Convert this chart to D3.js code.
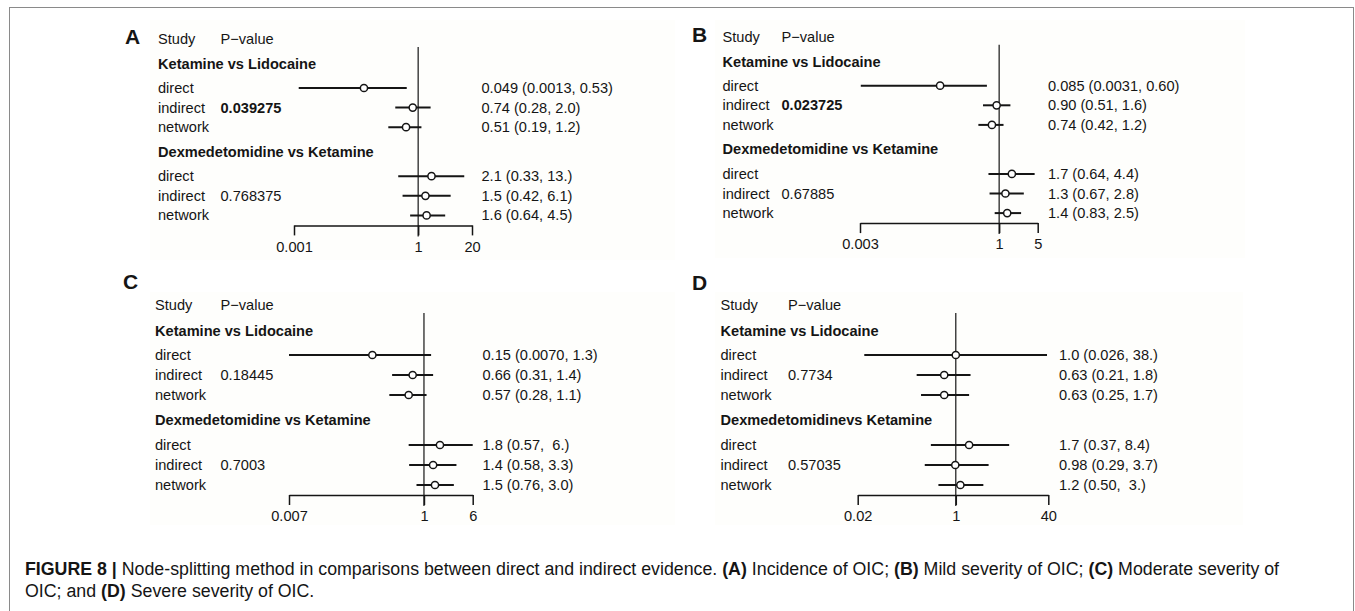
<!DOCTYPE html>
<html>
<head>
<meta charset="utf-8">
<script src="https://cdn.jsdelivr.net/npm/d3@7"></script>
<style>
  body { margin: 0; background: #fff; }
  svg { display: block; }
  text { font-family: "Liberation Sans", Arial, sans-serif; fill: #151515; }
</style>
</head>
<body>
<div class="d3Chart"></div>
<script>
//#region data

var methods = ["direct", "indirect", "network"];
var groupsABC = ["Ketamine vs Lidocaine", "Dexmedetomidine vs Ketamine"];
var groupsD = ["Ketamine vs Lidocaine", "Dexmedetomidinevs Ketamine"];

// A: incidence of OIC
var estA = [0.049, 0.74, 0.51, 2.1, 1.5, 1.6];
var lowA = [0.0013, 0.28, 0.19, 0.33, 0.42, 0.64];
var highA = [0.53, 2.0, 1.2, 13, 6.1, 4.5];
var textA = ["0.049 (0.0013, 0.53)", "0.74 (0.28, 2.0)", "0.51 (0.19, 1.2)",
  "2.1 (0.33, 13.)", "1.5 (0.42, 6.1)", "1.6 (0.64, 4.5)"];
var pA = ["0.039275", "0.768375"];
var ticksA = [0.001, 1, 20];
var tickLabelsA = ["0.001", "1", "20"];

// B: mild severity
var estB = [0.085, 0.90, 0.74, 1.7, 1.3, 1.4];
var lowB = [0.0031, 0.51, 0.42, 0.64, 0.67, 0.83];
var highB = [0.60, 1.6, 1.2, 4.4, 2.8, 2.5];
var textB = ["0.085 (0.0031, 0.60)", "0.90 (0.51, 1.6)", "0.74 (0.42, 1.2)",
  "1.7 (0.64, 4.4)", "1.3 (0.67, 2.8)", "1.4 (0.83, 2.5)"];
var pB = ["0.023725", "0.67885"];
var ticksB = [0.003, 1, 5];
var tickLabelsB = ["0.003", "1", "5"];

// C: moderate severity
var estC = [0.15, 0.66, 0.57, 1.8, 1.4, 1.5];
var lowC = [0.0070, 0.31, 0.28, 0.57, 0.58, 0.76];
var highC = [1.3, 1.4, 1.1, 6, 3.3, 3.0];
var textC = ["0.15 (0.0070, 1.3)", "0.66 (0.31, 1.4)", "0.57 (0.28, 1.1)",
  "1.8 (0.57,  6.)", "1.4 (0.58, 3.3)", "1.5 (0.76, 3.0)"];
var pC = ["0.18445", "0.7003"];
var ticksC = [0.007, 1, 6];
var tickLabelsC = ["0.007", "1", "6"];

// D: severe severity
var estD = [1.0, 0.63, 0.63, 1.7, 0.98, 1.2];
var lowD = [0.026, 0.21, 0.25, 0.37, 0.29, 0.50];
var highD = [38, 1.8, 1.7, 8.4, 3.7, 3];
var textD = ["1.0 (0.026, 38.)", "0.63 (0.21, 1.8)", "0.63 (0.25, 1.7)",
  "1.7 (0.37, 8.4)", "0.98 (0.29, 3.7)", "1.2 (0.50,  3.)"];
var pD = ["0.7734", "0.57035"];
var ticksD = [0.02, 1, 40];
var tickLabelsD = ["0.02", "1", "40"];

//#endregion

//#region canvas

var width = 1355;
var height = 611;
var fontSize = 14.6;

var svg = d3
  .select(".d3Chart")
  .append("svg")
  .attr("width", width)
  .attr("height", height);

// figure frame (bottom edge runs off the page)
svg
  .append("rect")
  .attr("x", 9.5)
  .attr("y", 7.5)
  .attr("width", 1344)
  .attr("height", 700)
  .attr("fill", "none")
  .attr("stroke", "#8a8a8a")
  .attr("stroke-width", 1);

//#endregion

//#region panels

var panels = [
  {
    letter: "A", letterX: 125, letterY: 44,
    bg: [150, 20, 525, 240],
    x0: 294, x1: 472, textX: 158, pX: 220.5, ciX: 481.5,
    studyY: 39, rowH: 19.6, boldP: true,
    groups: groupsABC, est: estA, low: lowA, high: highA, text: textA,
    p: pA, ticks: ticksA, tickLabels: tickLabelsA,
  },
  {
    letter: "B", letterX: 692, letterY: 42,
    bg: [715, 20, 530, 238],
    x0: 860, x1: 1037.7, textX: 722.5, pX: 781.5, ciX: 1048,
    studyY: 36.7, rowH: 19.6, boldP: true,
    groups: groupsABC, est: estB, low: lowB, high: highB, text: textB,
    p: pB, ticks: ticksB, tickLabels: tickLabelsB,
  },
  {
    letter: "C", letterX: 123, letterY: 289,
    bg: [150, 292, 525, 233],
    x0: 289, x1: 472.7, textX: 155, pX: 220.5, ciX: 482.5,
    studyY: 305, rowH: 20, boldP: false,
    groups: groupsABC, est: estC, low: lowC, high: highC, text: textC,
    p: pC, ticks: ticksC, tickLabels: tickLabelsC,
  },
  {
    letter: "D", letterX: 692, letterY: 290,
    bg: [715, 292, 528, 233],
    x0: 857.7, x1: 1048.3, textX: 720.5, pX: 788, ciX: 1059,
    studyY: 305, rowH: 20, boldP: false,
    groups: groupsD, est: estD, low: lowD, high: highD, text: textD,
    p: pD, ticks: ticksD, tickLabels: tickLabelsD,
  },
];

// vertical position of each line, in row units below the "Study" header
var rowUnits = [1.28, 2.5, 3.5, 4.5, 5.75, 7, 8, 9];

function drawPanel(p) {
  var g = svg.append("g");
  var y = (i) => p.studyY + rowUnits[i] * p.rowH;
  var x = d3.scaleLog().domain(d3.extent(p.ticks)).range([p.x0, p.x1]);

  // very faint tone of the pasted plot image
  g.append("rect")
    .attr("x", p.bg[0]).attr("y", p.bg[1])
    .attr("width", p.bg[2]).attr("height", p.bg[3])
    .attr("fill", "#fefefc");

  g.append("text")
    .attr("x", p.letterX).attr("y", p.letterY)
    .attr("font-size", 21).attr("font-weight", "bold")
    .text(p.letter);

  g.append("text").attr("x", p.textX).attr("y", p.studyY + 5)
    .attr("font-size", fontSize).text("Study");
  g.append("text").attr("x", p.pX).attr("y", p.studyY + 5)
    .attr("font-size", fontSize).text("P\u2212value");

  var axisY = y(7) + 10;

  // line of no effect
  g.append("line")
    .attr("x1", x(1)).attr("x2", x(1))
    .attr("y1", p.studyY + 8).attr("y2", axisY + 11)
    .attr("stroke", "#151515").attr("stroke-width", 1.2);

  var rows = [];
  p.groups.forEach((grp, gi) => {
    methods.forEach((m, mi) => {
      var k = gi * 3 + mi;
      rows.push({
        method: m, yy: y(gi * 4 + 1 + mi),
        est: p.est[k], low: p.low[k], high: p.high[k], text: p.text[k],
      });
    });
  });

  // group headers
  g.selectAll(".grp")
    .data(p.groups)
    .enter()
    .append("text")
    .attr("x", p.textX)
    .attr("y", (d, i) => y(i * 4) + 5)
    .attr("font-size", fontSize)
    .attr("font-weight", "bold")
    .text((d) => d);

  // method names
  g.selectAll(".method")
    .data(rows)
    .enter()
    .append("text")
    .attr("x", p.textX)
    .attr("y", (d) => d.yy + 5)
    .attr("font-size", fontSize)
    .text((d) => d.method);

  // p-values on the "indirect" lines
  g.selectAll(".pval")
    .data(p.p)
    .enter()
    .append("text")
    .attr("x", p.pX)
    .attr("y", (d, i) => y(i * 4 + 2) + 5)
    .attr("font-size", fontSize)
    .attr("font-weight", (d, i) => (p.boldP && i === 0 ? "bold" : "normal"))
    .text((d) => d);

  // confidence intervals
  g.selectAll(".ci")
    .data(rows)
    .enter()
    .append("line")
    .attr("x1", (d) => x(d.low))
    .attr("x2", (d) => x(d.high))
    .attr("y1", (d) => d.yy)
    .attr("y2", (d) => d.yy)
    .attr("stroke", "#151515")
    .attr("stroke-width", 2);

  g.selectAll(".pt")
    .data(rows)
    .enter()
    .append("circle")
    .attr("cx", (d) => x(d.est))
    .attr("cy", (d) => d.yy)
    .attr("r", 3.6)
    .attr("fill", "#fff")
    .attr("stroke", "#151515")
    .attr("stroke-width", 1.5);

  g.selectAll(".ciText")
    .data(rows)
    .enter()
    .append("text")
    .attr("x", p.ciX)
    .attr("y", (d) => d.yy + 5)
    .attr("font-size", fontSize)
    .style("white-space", "pre")
    .text((d) => d.text);

  var axis = g
    .append("g")
    .attr("transform", `translate(0,${axisY})`)
    .call(
      d3.axisBottom(x)
        .tickValues(p.ticks)
        .tickFormat((d, i) => p.tickLabels[i])
        .tickSizeInner(10)
        .tickSizeOuter(0)
        .tickPadding(6)
    );
  axis.attr("font-family", null).attr("font-size", null);
  axis.select(".domain").attr("stroke", "#151515").attr("stroke-width", 1.5);
  axis.selectAll(".tick line").attr("stroke", "#151515").attr("stroke-width", 1.5);
  axis.selectAll(".tick text").attr("font-size", fontSize).attr("fill", "#151515");
}

panels.forEach(drawPanel);

//#endregion

//#region caption

var capLines = [
  [
    ["FIGURE 8 | ", true],
    ["Node-splitting method in comparisons between direct and indirect evidence. ", false],
    ["(A)", true], [" Incidence of OIC; ", false],
    ["(B)", true], [" Mild severity of OIC; ", false],
    ["(C)", true], [" Moderate severity of", false],
  ],
  [
    ["OIC; and ", false], ["(D)", true], [" Severe severity of OIC.", false],
  ],
];

var caption = svg.append("g");
var capText = capLines.map((parts, li) => {
  var t = caption
    .append("text")
    .attr("x", 25)
    .attr("y", 575 + li * 22)
    .attr("font-size", 15)
    .style("white-space", "pre")
    .attr("fill", "#222");
  parts.forEach((pt) => {
    t.append("tspan")
      .attr("font-weight", pt[1] ? "bold" : "normal")
      .text(pt[0]);
  });
  return t;
});

// fit the first caption line to the width it takes in the figure
var capW = capText[0].node().getComputedTextLength();
var capSize = (15 * 1255) / capW;
capText.forEach((t) => t.attr("font-size", capSize));

//#endregion
</script>
</body>
</html>
